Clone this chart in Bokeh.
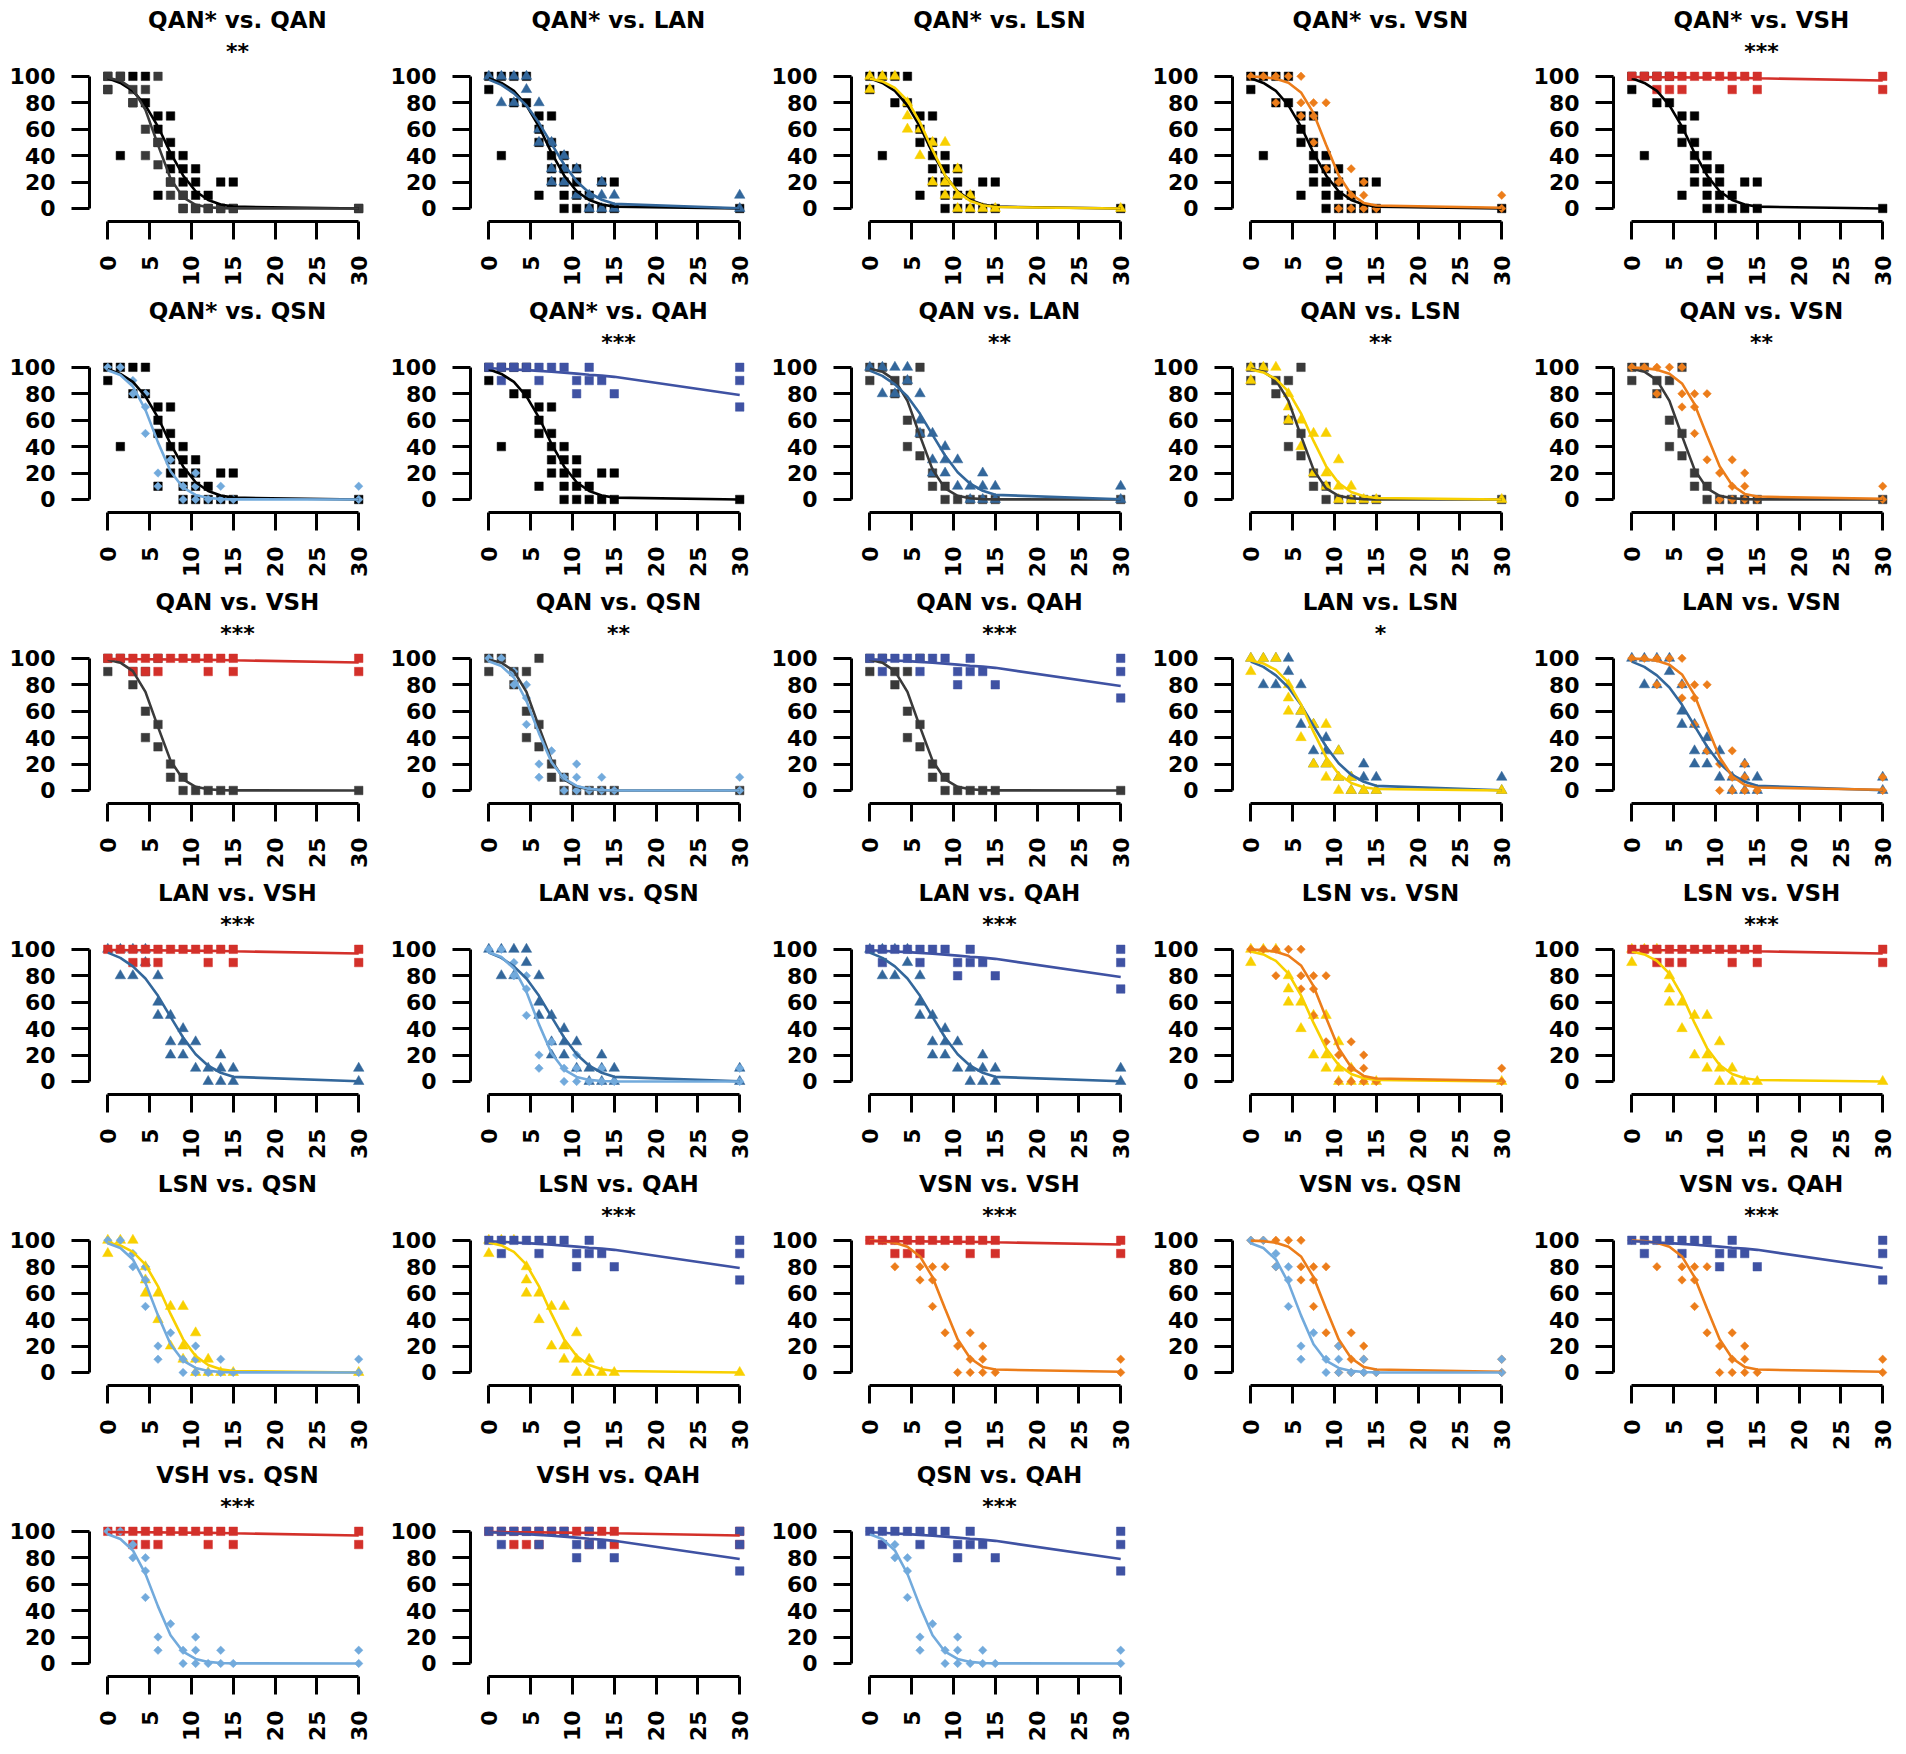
import math
from bokeh.plotting import figure
from bokeh.layouts import gridplot
from bokeh.models import FixedTicker
from bokeh.core.properties import value
from bokeh.embed import file_html
from bokeh.resources import INLINE

# ---------------- data ----------------
X_GRID = [0, 1.5, 3, 4.5, 6, 7.5, 9, 10.5, 12, 13.5, 15, 30]

QANS_X = [0, 0, 1.5, 1.5, 3, 3, 4.5, 4.5, 6, 6, 6, 6, 7.5, 7.5, 7.5, 7.5, 7.5,
          9, 9, 9, 9, 9, 10.5, 10.5, 10.5, 10.5, 12, 12, 13.5, 13.5, 15, 15, 30]
QANS_Y = [100, 90, 100, 40, 100, 80, 100, 80, 70, 60, 50, 10, 70, 50, 40, 30, 20,
          40, 30, 20, 10, 0, 30, 20, 10, 0, 10, 0, 20, 0, 20, 0, 0]
QANS_FIT = [98.5, 95, 89, 78, 62, 42, 25, 13, 6.4, 3, 1.4, 0]

QAN_X = [0, 0, 1.5, 3, 3, 4.5, 4.5, 4.5, 6, 6, 6, 7.5, 7.5, 9, 9, 10.5, 12, 13.5, 15, 30]
QAN_Y = [100, 90, 100, 90, 80, 90, 60, 40, 100, 50, 33, 20, 10, 10, 0, 0, 0, 0, 0, 0]
QAN_FIT = [98.9, 96.7, 90.3, 74.6, 48.1, 22.6, 8.4, 2.8, 0.9, 0.3, 0.1, 0]

LAN_X = [0, 1.5, 1.5, 3, 3, 4.5, 4.5, 6, 6, 6, 7.5, 7.5, 7.5, 9, 9, 9, 10.5, 10.5,
         12, 12, 13.5, 13.5, 13.5, 15, 15, 30, 30]
LAN_Y = [100, 100, 80, 100, 80, 100, 90, 80, 60, 50, 50, 30, 20, 40, 30, 20, 30, 10,
         10, 0, 20, 10, 0, 10, 0, 10, 0]
LAN_FIT = [97.5, 93.5, 87.1, 77.9, 64.8, 48.9, 33.3, 20.6, 11.9, 6.6, 3.5, 0.2]

LSN_X = [0, 0, 1.5, 3, 4.5, 4.5, 4.5, 6, 6, 7.5, 7.5, 9, 9, 9, 10.5, 10.5, 10.5,
         12, 12, 13.5, 15, 30]
LSN_Y = [100, 90, 100, 100, 80, 70, 60, 60, 40, 50, 20, 50, 20, 10, 30, 10, 0,
         10, 0, 0, 0, 0]
LSN_FIT = [98.3, 96.1, 91.2, 81.6, 65.2, 44.3, 25.2, 12.5, 5.7, 2.5, 1.1, 0]

VSN_X = [0, 1.5, 3, 3, 4.5, 6, 6, 6, 7.5, 7.5, 7.5, 9, 9, 10.5, 10.5, 12, 12, 12,
         13.5, 13.5, 13.5, 15, 30, 30]
VSN_Y = [100, 100, 100, 80, 100, 100, 80, 70, 80, 70, 50, 80, 30, 20, 0, 30, 10, 0,
         20, 10, 0, 0, 10, 0]
VSN_FIT = [99.8, 99.4, 98.2, 95.2, 87.8, 72.1, 48.3, 25.2, 10.8, 4.2, 2.2, 0.5]

VSH_X = [0, 1.5, 3, 4.5, 6, 7.5, 9, 10.5, 12, 13.5, 15, 30, 3, 4.5, 6, 12, 15, 30]
VSH_Y = [100, 100, 100, 100, 100, 100, 100, 100, 100, 100, 100, 100, 90, 90, 90, 90, 90, 90]
VSH_FIT = [99.5, 99.4, 99.3, 99.3, 99.2, 99.1, 99.0, 98.9, 98.8, 98.7, 98.5, 96.8]

QSN_X = [0, 1.5, 3, 3, 4.5, 4.5, 4.5, 6, 6, 7.5, 9, 9, 10.5, 10.5, 10.5, 12,
         13.5, 13.5, 15, 30, 30]
QSN_Y = [100, 100, 90, 80, 80, 70, 50, 20, 10, 30, 10, 0, 20, 10, 0, 0,
         10, 0, 0, 10, 0]
QSN_FIT = [97.8, 94.2, 85.5, 67.8, 43.2, 21.4, 8.9, 3.4, 1.2, 0.4, 0.1, 0]

QAH_X = [0, 1.5, 1.5, 3, 4.5, 6, 6, 7.5, 9, 10.5, 10.5, 12, 12, 13.5, 15, 30, 30, 30]
QAH_Y = [100, 100, 90, 100, 100, 100, 90, 100, 100, 90, 80, 100, 90, 90, 80, 100, 90, 70]
QAH_FIT = [99.3, 98.9, 98.4, 97.9, 97.3, 96.6, 96.0, 95.2, 94.4, 93.7, 92.8, 79]

PANEL_PAIRS = [
    ("QAN*", "QAN"), ("QAN*", "LAN"), ("QAN*", "LSN"), ("QAN*", "VSN"), ("QAN*", "VSH"),
    ("QAN*", "QSN"), ("QAN*", "QAH"), ("QAN", "LAN"), ("QAN", "LSN"), ("QAN", "VSN"),
    ("QAN", "VSH"), ("QAN", "QSN"), ("QAN", "QAH"), ("LAN", "LSN"), ("LAN", "VSN"),
    ("LAN", "VSH"), ("LAN", "QSN"), ("LAN", "QAH"), ("LSN", "VSN"), ("LSN", "VSH"),
    ("LSN", "QSN"), ("LSN", "QAH"), ("VSN", "VSH"), ("VSN", "QSN"), ("VSN", "QAH"),
    ("VSH", "QSN"), ("VSH", "QAH"), ("QSN", "QAH"),
]
PANEL_STARS = [
    "**", "", "", "", "***",
    "", "***", "**", "**", "**",
    "***", "**", "***", "*", "",
    "***", "", "***", "", "***",
    "", "***", "***", "", "***",
    "***", "", "***",
]

X_TICKS = [0, 5, 10, 15, 20, 25, 30]
Y_TICKS = [0, 20, 40, 60, 80, 100]

# ---------------- styles ----------------
STYLE = {
    "QAN*": dict(x=QANS_X, y=QANS_Y, fit=QANS_FIT, color="#000000", marker="square", size=8.5, angle=0.0),
    "QAN": dict(x=QAN_X, y=QAN_Y, fit=QAN_FIT, color="#3a3a3a", marker="square", size=8.5, angle=0.0),
    "LAN": dict(x=LAN_X, y=LAN_Y, fit=LAN_FIT, color="#33679b", marker="triangle", size=10.5, angle=0.0),
    "LSN": dict(x=LSN_X, y=LSN_Y, fit=LSN_FIT, color="#f8d000", marker="triangle", size=10.5, angle=0.0),
    "VSN": dict(x=VSN_X, y=VSN_Y, fit=VSN_FIT, color="#ec7d1a", marker="square", size=6.0, angle=math.pi / 4),
    "VSH": dict(x=VSH_X, y=VSH_Y, fit=VSH_FIT, color="#d3302a", marker="square", size=8.5, angle=0.0),
    "QSN": dict(x=QSN_X, y=QSN_Y, fit=QSN_FIT, color="#72aadc", marker="square", size=6.0, angle=math.pi / 4),
    "QAH": dict(x=QAH_X, y=QAH_Y, fit=QAH_FIT, color="#3f52a3", marker="square", size=8.5, angle=0.0),
}

FONT = "DejaVu Sans"
COL_W = [381, 381, 381, 381, 380]
ROW_H = [291, 291, 291, 291, 291, 290]
LEFT = 89
TOP = 2
FRAME_W = 279
PLOT_H = 151                     # height of the data area (y = -9.85 .. 104.4)
XR = (-2.19, 31.17)
Y_LO, Y_HI = -9.85, 104.4
PX_Y = (Y_HI - Y_LO) / PLOT_H
EXTRA_TOP = 68                   # room above the data area for the panel titles
FRAME_H = PLOT_H + EXTRA_TOP
YR = (Y_LO, Y_HI + EXTRA_TOP * PX_Y)
TITLE_Y = Y_HI + 50.5 * PX_Y
STARS_Y = Y_HI + 19.5 * PX_Y
TITLE_X = 15.5


def make_panel(idx):
    r, c = divmod(idx, 5)
    g1, g2 = PANEL_PAIRS[idx]
    w, h = COL_W[c], ROW_H[r]
    p = figure(width=w, height=h, x_range=XR, y_range=YR, output_backend="svg",
               toolbar_location=None, title=None,
               min_border_left=LEFT, min_border_right=w - LEFT - FRAME_W,
               min_border_top=TOP, min_border_bottom=h - TOP - FRAME_H)
    p.outline_line_color = None
    p.grid.visible = False
    p.background_fill_color = None
    p.border_fill_color = None
    for ax, ticks, bounds in ((p.xaxis, X_TICKS, (0, 30)), (p.yaxis, Y_TICKS, (0, 100))):
        ax.ticker = FixedTicker(ticks=ticks)
        ax.bounds = bounds
        ax.axis_line_width = 3
        ax.major_tick_line_width = 3
        ax.major_tick_out = 18
        ax.major_tick_in = 0
        ax.minor_tick_line_color = None
        ax.major_label_text_font = FONT
        ax.major_label_text_font_style = "bold"
        ax.major_label_text_font_size = "22px"
        ax.major_label_text_color = "black"
        ax.major_label_standoff = 16
    p.xaxis.major_label_orientation = math.pi / 2

    for g in (g1, g2):
        s = STYLE[g]
        p.scatter(s["x"], s["y"], marker=s["marker"], size=s["size"], angle=s["angle"],
                  fill_color=s["color"], line_color=s["color"], line_width=0.5)
    for g in (g1, g2):
        s = STYLE[g]
        p.line(X_GRID, s["fit"], line_color=s["color"], line_width=2.6)

    p.text(x=[TITLE_X], y=[TITLE_Y], text=[f"{g1} vs. {g2}"],
           text_align="center", text_baseline="alphabetic",
           text_font=value(FONT), text_font_style="bold", text_font_size="23px",
           text_color="black")
    if PANEL_STARS[idx]:
        p.text(x=[TITLE_X], y=[STARS_Y], text=[PANEL_STARS[idx]],
               text_align="center", text_baseline="alphabetic",
               text_font=value(FONT), text_font_style="bold", text_font_size="22px",
               text_color="black")
    return p


panels = [make_panel(i) for i in range(len(PANEL_PAIRS))]
rows = [panels[i:i + 5] for i in range(0, len(panels), 5)]
rows[-1] = rows[-1] + [None] * (5 - len(rows[-1]))
grid = gridplot(rows, toolbar_location=None)

open("out.html", "w").write(file_html(grid, INLINE))
